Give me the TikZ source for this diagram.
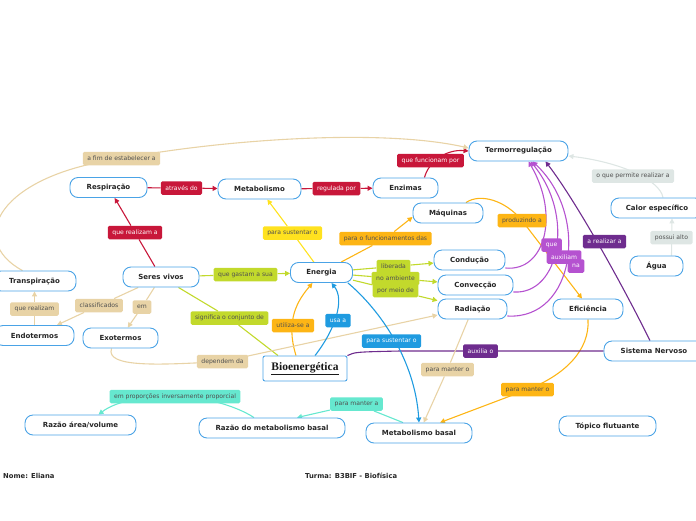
\documentclass[tikz,border=0pt]{standalone}
\usepackage{fontspec}
\setmainfont{DejaVu Sans}
\newfontfamily\serifbio{Liberation Serif}
\usetikzlibrary{arrows.meta}
\pgfdeclarelayer{bg}
\pgfsetlayers{bg,main}
\definecolor{nodeblue}{HTML}{4AA3E6}
\definecolor{crim}{HTML}{C8173A}
\definecolor{yel}{HTML}{FFE21F}
\definecolor{gold}{HTML}{FDB515}
\definecolor{lime}{HTML}{C2D92C}
\definecolor{tanc}{HTML}{E8D3A6}
\definecolor{tealc}{HTML}{66E8CF}
\definecolor{blu}{HTML}{1F9BE0}
\definecolor{dpur}{HTML}{6E2C8E}
\definecolor{lpur}{HTML}{B552D0}
\definecolor{lgray}{HTML}{DEE6E4}
\definecolor{txt}{HTML}{505050}
\begin{document}
\begin{tikzpicture}[x=1pt,y=-1pt,
 topic/.style={draw=nodeblue, line width=0.9pt, fill=white, rounded corners=8pt, minimum height=20pt, inner sep=0pt, font=\fontsize{7}{8}\selectfont\bfseries, text=black!85},
 lab/.style={rounded corners=1.5pt, minimum height=13.5pt, inner xsep=4.5pt, inner ysep=1pt, font=\fontsize{6.1}{7}\selectfont, text=txt},
 lcrim/.style={lab, fill=crim, text=white},
 lyel/.style={lab, fill=yel},
 lgold/.style={lab, fill=gold},
 llime/.style={lab, fill=lime},
 ltan/.style={lab, fill=tanc},
 lteal/.style={lab, fill=tealc},
 lblu/.style={lab, fill=blu, text=white},
 ldpur/.style={lab, fill=dpur, text=white},
 llpur/.style={lab, fill=lpur, text=white},
 lgry/.style={lab, fill=lgray},
 conn/.style={line width=1.1pt},
 arr/.style={-{Triangle[length=5pt,width=5pt]}},
 foot/.style={font=\fontsize{6.8}{7}\selectfont\bfseries, text=black!85, anchor=west, inner sep=0pt}
 ]
\useasboundingbox (0,0) rectangle (696,520);

% topics
\node[topic,minimum width=99pt] (termo) at (518.5,151) {Termorregulação};
\node[topic,minimum width=77pt] (resp) at (108.5,187.5) {Respiração};
\node[topic,minimum width=83pt] (metab) at (259.5,189) {Metabolismo};
\node[topic,minimum width=65pt] (enz) at (405.5,188) {Enzimas};
\node[topic,minimum width=70pt] (maq) at (448,213) {Máquinas};
\node[topic,minimum width=92pt] (calor) at (657,208) {Calor específico};
\node[topic,minimum width=76pt] (seres) at (161,277) {Seres vivos};
\node[topic,minimum width=62pt] (energia) at (321.5,272.5) {Energia};
\node[topic,minimum width=71pt] (cond) at (469.5,260) {Condução};
\node[topic,minimum width=75pt] (conv) at (475.5,285) {Convecção};
\node[topic,minimum width=69pt] (rad) at (472.5,309) {Radiação};
\node[topic,minimum width=70pt] (eff) at (588,309) {Eficiência};
\node[topic,minimum width=53pt] (agua) at (656.5,266) {Água};
\node[topic,minimum width=83pt] (transp) at (34.5,281) {Transpiração};
\node[topic,minimum width=79pt] (endo) at (34.5,335.5) {Endotermos};
\node[topic,minimum width=75pt] (exo) at (120.5,338) {Exotermos};
\node[topic,minimum width=100pt] (sn) at (654,351) {Sistema Nervoso};
\node[topic,minimum width=111pt] (raz) at (80.5,425) {Razão área/volume};
\node[topic,minimum width=146pt] (rmb) at (272,428) {Razão do metabolismo basal};
\node[topic,minimum width=106pt] (mb) at (419,433) {Metabolismo basal};
\node[topic,minimum width=97pt] (topf) at (607.5,426) {Tópico flutuante};
\node[draw=nodeblue, line width=0.9pt, fill=white, rounded corners=2pt, minimum width=84pt, minimum height=25pt, inner sep=0pt, font=\serifbio\fontsize{11.5}{12}\selectfont\bfseries, text=black!90] (bio) at (305,368.5) {\underline{Bioenergética}};

% labels
\node[ltan] (lfim) at (121.5,158.5) {a fim de estabelecer a};
\node[lcrim] (latr) at (181.5,188) {através do};
\node[lcrim] (lrea) at (135,232.5) {que realizam a};
\node[lcrim] (lreg) at (336.5,188.5) {regulada por};
\node[lcrim] (lfun) at (430.5,160.5) {que funcionam por};
\node[lyel] (lsus) at (292.5,233) {para sustentar o};
\node[lgold] (lfnc) at (385.5,238.5) {para o funcionamentos das};
\node[lgold] (lprod) at (522,220.5) {produzindo a};
\node[lgry] (lperm) at (633,176) {o que permite realizar a};
\node[lgry] (lpos) at (671.5,237.5) {possui alto};
\node[ldpur] (lrz) at (604.5,241.5) {a realizar a};
\node[llpur] (lque) at (551.5,245) {que};
\node[llpur] (laux) at (564,257) {auxiliam};
\node[llpur] (lna) at (576,266) {na};
\node[llime] (lgas) at (245.5,274.5) {que gastam a sua};
\node[llime] (llib) at (393.5,266.5) {liberada};
\node[llime] (lamb) at (395.5,278.5) {no ambiente};
\node[llime] (lpor) at (395.5,290.5) {por meio de};
\node[ltan] (lcla) at (99,305.5) {classificados};
\node[ltan] (lem) at (142,307) {em};
\node[ltan] (lqr) at (34.5,309) {que realizam};
\node[llime] (lsig) at (229.5,318) {significa o conjunto de};
\node[lgold] (luti) at (293,325.5) {utiliza-se a};
\node[lblu] (lusa) at (338,320.5) {usa a};
\node[lblu] (lsus2) at (391.5,341) {para sustentar o};
\node[ltan] (ldep) at (222.5,361.5) {dependem da};
\node[ldpur] (laxo) at (480.5,351) {auxilia o};
\node[ltan] (lpm1) at (447.5,369.5) {para manter o};
\node[lgold] (lpm2) at (527.5,389.5) {para manter o};
\node[lteal] (lprop) at (175,396.5) {em proporções inversamente proporcial};
\node[lteal] (lpma) at (356.5,404) {para manter a};

% footer
\node[foot] (nome) at (3,476) {Nome: Eliana};
\node[foot] (turma) at (305,476) {Turma: B3BIF - Biofísica};

\begin{pgfonlayer}{bg}
% crimson
\draw[crim,conn,arr] (resp) -- (latr) -- (metab);
\draw[crim,conn,arr] (seres) -- (lrea) -- (resp);
\draw[crim,conn,arr] (metab) -- (lreg) -- (enz);
\draw[crim,conn,arr] ([xshift=19pt]enz.north) .. controls (428,163) and (445,149) .. (termo.west);
% tan big curve
\draw[tanc,conn,arr] ([xshift=-12pt]transp.north) .. controls (-34,240) and (-2,175) .. (lfim.center) .. controls (220,140) and (380,128) .. ([yshift=3pt]termo.west);
% yellow / gold
\draw[yel,conn,arr] (energia) -- (lsus) -- (metab);
\draw[gold,conn,arr] (energia) -- (lfnc) -- ([yshift=-4pt]maq.west);
\draw[gold,conn,arr] ([xshift=18pt]maq.north) .. controls (480,193) and (505,200) .. (lprod.center) -- ([xshift=-6pt]eff.north);
\draw[gold,conn,arr] ([xshift=-9pt]bio.north) .. controls (285,320) and (298,300) .. ([xshift=-9pt]energia.south);
\draw[gold,conn,arr] (eff.south) .. controls (590,350) and (565,375) .. (lpm2.center) -- ([xshift=21pt]mb.north);
% gray
\draw[lgray,conn,arr] ([xshift=6pt]calor.north) .. controls (660,180) and (620,162) .. ([yshift=-5pt]termo.east);
\draw[lgray,conn,arr] ([xshift=15pt]agua.north) -- ([xshift=15pt]calor.south);
% dark purple
\draw[dpur,conn,arr] ([xshift=-4pt]sn.north) .. controls (620,280) and (575,200) .. ([xshift=27pt]termo.south);
\draw[dpur,conn] (bio.north east) .. controls (355,352) .. (400,351) -- (sn.west);
% light purple
\draw[lpur,conn,arr] ([yshift=-8pt]cond.east) .. controls (545,272) and (560,215) .. ([xshift=10pt]termo.south);
\draw[lpur,conn,arr] ([yshift=-7pt]conv.east) .. controls (560,295) and (575,215) .. ([xshift=12pt]termo.south);
\draw[lpur,conn,arr] ([yshift=-7pt]rad.east) .. controls (575,320) and (590,215) .. ([xshift=14pt]termo.south);
% lime
\draw[lime,conn,arr] (seres) -- (lgas) -- (energia);
\draw[lime,conn,arr] (energia) -- (llib) -- (cond);
\draw[lime,conn,arr] (energia) -- (lamb) -- (conv);
\draw[lime,conn,arr] (energia) -- (lpor) -- (rad);
\draw[lime,conn] ([xshift=-27pt]bio.north) -- (lsig) -- (seres);
% tan small
\draw[tanc,conn,arr] (seres) -- (lcla) -- (endo);
\draw[tanc,conn,arr] (seres) -- (lem) -- (exo);
\draw[tanc,conn,arr] (endo) -- (lqr) -- (transp);
\draw[tanc,conn,arr] ([xshift=-9pt]exo.south) .. controls (105,368) and (160,365) .. (ldep.center) -- ([yshift=-6pt]rad.west);
\draw[tanc,conn,arr] (rad) -- (lpm1) -- (mb);
% blue
\draw[blu,conn,arr] ([xshift=10pt]bio.north) .. controls (335,330) and (345,300) .. ([xshift=10pt]energia.south);
\draw[blu,conn,arr] ([xshift=-5pt]energia.south east) .. controls (380,310) and (415,360) .. (mb.north);
% teal
\draw[tealc,conn,arr] ([xshift=-18pt]rmb.north) .. controls (235,405) and (200,396) .. (lprop.center) .. controls (140,396) and (115,402) .. ([xshift=18pt]raz.north);
\draw[tealc,conn,arr] ([xshift=-16pt]mb.north) -- (lpma) -- ([xshift=25pt]rmb.north);
\end{pgfonlayer}
\end{tikzpicture}
\end{document}
